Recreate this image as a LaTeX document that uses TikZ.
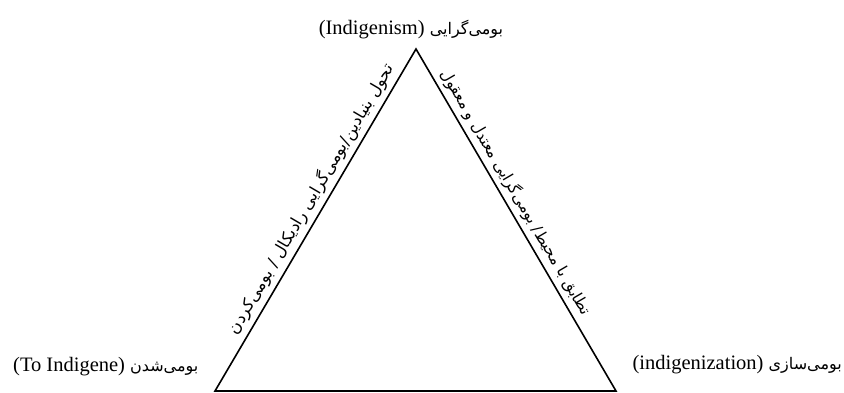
\documentclass[tikz,border=0pt]{standalone}
\usepackage{fontspec}
\setmainfont{Liberation Serif}
\newfontfamily\fa[Script=Arabic]{DejaVu Sans}
\TeXXeTstate=1
\begin{document}
\begin{tikzpicture}[x=1pt,y=-1pt,
  edge/.style={line width=1.6pt,line join=miter},
  corner/.style={font=\fontsize{20.5}{24}\selectfont,inner sep=0pt},
  cornerfa/.style={},
  side/.style={inner sep=0pt,sloped}]
\newcommand\cfa{\fa\fontsize{16}{19}\selectfont}
\useasboundingbox[fill=white] (0,0) rectangle (844,392);
\coordinate (top) at (416,49);
\coordinate (bl) at (215,391);
\coordinate (br) at (616,391);
\draw[edge] (top) -- (br) -- (bl) -- cycle;
\path (bl) -- (top) node[side,pos=0.54,above=5pt,font=\fa\fontsize{16.5}{19}\selectfont] (ls) {\beginR تحول بنیادین/بومی‌گرایی رادیکال / بومی‌کردن\endR};
\path (top) -- (br) node[side,pos=0.44,above=5pt,font=\fa\fontsize{15.5}{19}\selectfont] (rs) {\beginR تطابق با محیط/ بومی‌گرایی معتدل و معقول\endR};
\node[corner,anchor=base] (tl) at (411,34) {(Indigenism) {\cfa\beginR بومی‌گرایی\endR}};
\node[corner,anchor=base west] (bll) at (13,371) {(To Indigene) {\cfa\beginR بومی‌شدن\endR}};
\node[corner,anchor=base east] (brl) at (842,369) {(indigenization) {\cfa\beginR بومی‌سازی\endR}};
\end{tikzpicture}
\end{document}
